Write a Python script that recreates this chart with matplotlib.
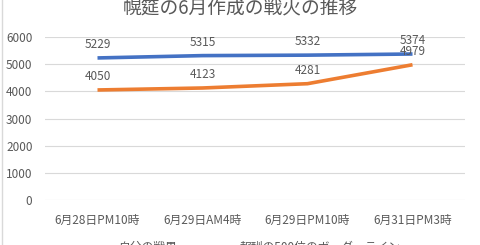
import matplotlib
matplotlib.use('Agg')
from matplotlib import pyplot as plt

plt.rcParams['font.family'] = ['Noto Sans CJK JP', 'DejaVu Sans']

# データ
categories = ['6月28日PM10時', '6月29日AM4時', '6月29日PM10時', '6月31日PM3時']
my_score = [5229, 5315, 5332, 5374]
border_500 = [4050, 4123, 4281, 4979]
series_names = ['自分の戦果', '報酬の500位のボーダーライン']
title = '幌筵の6月作成の戦火の推移'

text_col = '#595959'
blue = '#4472C4'
orange = '#ED7D31'

fig = plt.figure(figsize=(4.8, 2.45), dpi=100)
ax = fig.add_axes([45/480, 1 - 200/245, 420/480, 163/245])

x = range(len(categories))
ax.plot(x, my_score, color=blue, lw=2.6, solid_capstyle='butt')
ax.plot(x, border_500, color=orange, lw=2.6, solid_capstyle='butt')

# データラベル
for vals in (my_score, border_500):
    for i, v in enumerate(vals):
        ax.annotate(str(v), (i, v), xytext=(0, 5), textcoords='offset points',
                    ha='center', va='bottom', fontsize=8.5, color=text_col)

ax.set_xlim(-0.5, len(categories) - 0.5)
ax.set_ylim(0, 6000)
ax.set_yticks(range(0, 6001, 1000))
ax.set_xticks(list(x))
ax.set_xticklabels(categories)
ax.grid(axis='y', color='#D9D9D9', lw=0.8)
ax.set_axisbelow(True)
for s in ax.spines.values():
    s.set_visible(False)
ax.tick_params(length=0, colors=text_col, labelsize=8.5)
ax.tick_params(axis='x', pad=10)
ax.tick_params(axis='y', pad=9)

fig.text(0.5, 1.012, title, ha='center', va='top', fontsize=13.5, color=text_col)

fig.legend([plt.Line2D([], [], color=blue, lw=2.6), plt.Line2D([], [], color=orange, lw=2.6)],
           series_names, loc='upper center', bbox_to_anchor=(0.5, 15/245), ncol=2,
           frameon=False, fontsize=8.5, labelcolor=text_col, handlelength=2.5, columnspacing=2)

# 枠線
fig.add_artist(plt.Line2D([2/480, 2/480], [0, 1], color='#D9D9D9', lw=1))

fig.savefig('out.png', dpi=100)
